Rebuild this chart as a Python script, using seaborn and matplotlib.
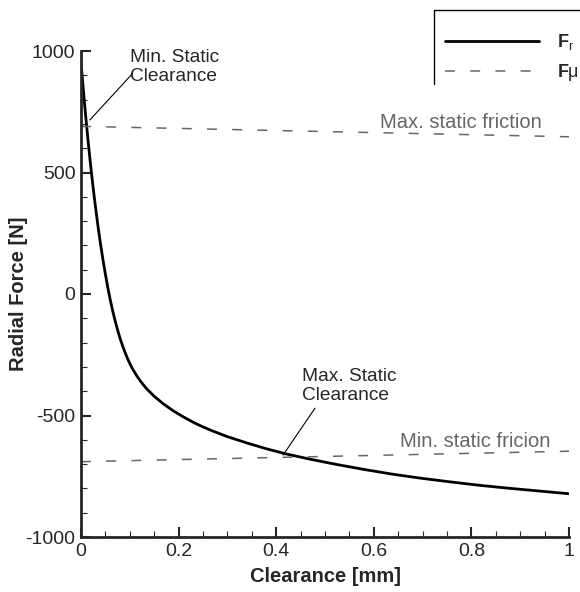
import numpy as np
import pandas as pd
import matplotlib
matplotlib.use("Agg")
import matplotlib.pyplot as plt
from matplotlib.lines import Line2D
import seaborn as sns
from matplotlib.ticker import MultipleLocator

# ---- data ----
clearance = [0.000, 0.005, 0.010, 0.015, 0.020, 0.025, 0.030, 0.035, 0.040, 0.045,
             0.050, 0.055, 0.060, 0.065, 0.070, 0.075, 0.080, 0.085, 0.090, 0.095,
             0.100, 0.105, 0.115, 0.125, 0.135, 0.150, 0.170, 0.190, 0.210, 0.230,
             0.250, 0.270, 0.300, 0.340, 0.380, 0.420, 0.470, 0.520, 0.580, 0.640,
             0.700, 0.760, 0.820, 0.880, 0.940, 1.000]
radial_force = [955, 835, 724, 620, 524, 435, 353, 276, 206, 141,
                81, 26, -25, -70, -111, -148, -182, -212, -239, -264,
                -286, -306, -339, -367, -391, -421, -454, -482, -506, -528,
                -547, -564, -587, -613, -637, -658, -680, -700, -722, -742,
                -759, -774, -788, -800, -811, -822]
friction_x = [0.0, 1.0]
max_friction = [690, 647]
min_friction = [-690, -647]

x_ticks = [0, 0.2, 0.4, 0.6, 0.8, 1.0]
x_tick_labels = ["0", "0.2", "0.4", "0.6", "0.8", "1"]
y_ticks = [-1000, -500, 0, 500, 1000]

df = pd.DataFrame({"x": clearance, "y": radial_force})
df_max = pd.DataFrame({"x": friction_x, "y": max_friction})
df_min = pd.DataFrame({"x": friction_x, "y": min_friction})

sns.set_style("ticks")
plt.rcParams["font.family"] = ["Liberation Sans", "DejaVu Sans"]
plt.rcParams["mathtext.fontset"] = "custom"
plt.rcParams["mathtext.rm"] = "Liberation Sans"
plt.rcParams["mathtext.bf"] = "Liberation Sans:bold"
plt.rcParams["mathtext.it"] = "Liberation Sans:italic"
plt.rcParams["axes.unicode_minus"] = False

W, H = 580, 592
fig = plt.figure(figsize=(W/100, H/100), dpi=100)
ax = fig.add_axes([81/W, 1-537/H, (569-81)/W, (537-51)/H])

gray = "#666666"
dash = (6.5, 10)
sns.lineplot(data=df, x="x", y="y", ax=ax, color="black", lw=2.0,
             label=r"$\mathbf{F}_{\mathrm{r}}$")
sns.lineplot(data=df_max, x="x", y="y", ax=ax, color=gray, lw=1.1,
             label=r"$\mathbf{F}$μ")
sns.lineplot(data=df_min, x="x", y="y", ax=ax, color=gray, lw=1.1)
for ln in ax.lines[1:]:
    ln.set_dashes(dash)

ax.set_xlim(0, 1)
ax.set_ylim(-1000, 1000)
ax.set_xticks(x_ticks)
ax.set_xticklabels(x_tick_labels)
ax.set_yticks(y_ticks)
ax.xaxis.set_minor_locator(MultipleLocator(0.05))
ax.yaxis.set_minor_locator(MultipleLocator(100))
ax.tick_params(which="major", direction="in", length=7.5, width=1.5, labelsize=14, pad=4)
ax.tick_params(which="minor", direction="in", length=4.3, width=0.8)
sns.despine(ax=ax)
for s in ["left", "bottom"]:
    ax.spines[s].set_linewidth(2.0)

ax.set_xlabel("Clearance [mm]", fontsize=14.5, fontweight="bold", labelpad=5)
ax.set_ylabel("Radial Force [N]", fontsize=14.5, fontweight="bold")
ax.yaxis.set_label_coords(-0.108, 0.5)

fs = 14.5
fa = 13.8
ax.text(0.6127, 683, "Max. static friction", color=gray, fontsize=fs, ha="left", va="baseline")
ax.text(0.6537, -628, "Min. static fricion", color=gray, fontsize=fs, ha="left", va="baseline")

ax.text(0.100, 1008, "Min. Static\nClearance", fontsize=fa, ha="left", va="top", linespacing=1.12)
ax.annotate("", xy=(0.018, 716), xytext=(0.106, 908),
            arrowprops=dict(arrowstyle="-", color="black", lw=0.8, shrinkA=0, shrinkB=0))
ax.text(0.453, -305, "Max. Static\nClearance", fontsize=fa, ha="left", va="top", linespacing=1.12)
ax.annotate("", xy=(0.414, -663), xytext=(0.4795, -470),
            arrowprops=dict(arrowstyle="-", color="black", lw=0.8, shrinkA=0, shrinkB=0))

leg = ax.legend(loc="upper left", bbox_to_anchor=(445/W, 1-32/H),
                bbox_transform=fig.transFigure, frameon=False, fontsize=13,
                handlelength=5.2, handletextpad=1.0, borderpad=0,
                labelspacing=0.55, borderaxespad=0)
for ln in leg.get_lines()[1:]:
    ln.set_dashes(dash)

# partial legend frame (top and left edges, as in the reference)
fig.add_artist(Line2D([434/W, 1.0], [1-10/H, 1-10/H], transform=fig.transFigure,
                      color="black", lw=1.0))
fig.add_artist(Line2D([434/W, 434/W], [1-10/H, 1-84/H], transform=fig.transFigure,
                      color="black", lw=1.0))

fig.savefig("out.png", dpi=100)
